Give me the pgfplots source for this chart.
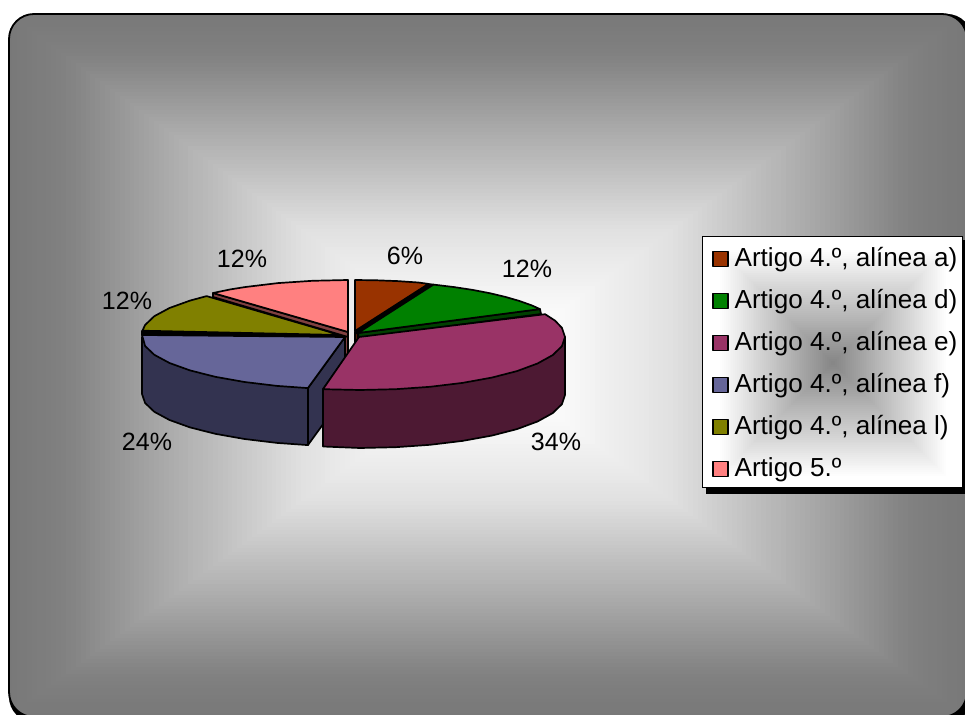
\documentclass[border=0pt]{standalone}
\usepackage{pgfplots}
\pgfplotsset{compat=1.18}
\usepackage{fontspec}
\setmainfont{Liberation Sans}

% face colours of the slices and their darker sides
\definecolor{sliceA}{HTML}{993300}\definecolor{sideA}{HTML}{4D1900}
\definecolor{sliceD}{HTML}{008000}\definecolor{sideD}{HTML}{004000}
\definecolor{sliceE}{HTML}{993366}\definecolor{sideE}{HTML}{4D1933}
\definecolor{sliceF}{HTML}{666699}\definecolor{sideF}{HTML}{333350}
\definecolor{sliceL}{HTML}{808000}\definecolor{sideL}{HTML}{000000}
\definecolor{sliceV}{HTML}{FF8080}\definecolor{sideV}{HTML}{804040}

\begin{document}
\begin{tikzpicture}
\path[use as bounding box,clip] (0,0) rectangle (965bp,715bp);

% chart area and legend panel, both with a rectangular path gradient
\begin{scope}[x=1bp,y=-1bp,yshift=715bp]
  \fill[black,rounded corners=25bp] (9,14) rectangle (972,722);
  \begin{scope}
    \clip[rounded corners=25bp] (9,14) rectangle (967,717);
    \fill[white] (0,0) rectangle (975,725);
    \foreach \i in {100,99,...,1}{
      \pgfmathsetmacro\t{\i/100}
      \pgfmathsetmacro\g{\t<0.15 ? 1-0.13*\t : (\t<0.375 ? 0.98-0.42*(\t-0.15) : (\t<0.87 ? 0.885-0.77*(\t-0.375) : 0.504-0.3*(\t-0.87)))}
      \definecolor{band}{gray}{\g}
      \fill[band] ({487-480*\t*1.02},{365-352*\t*1.02}) rectangle ({487+480*\t*1.02},{365+352*\t*1.02});
    }
  \end{scope}
  \draw[black,line width=1.8bp,rounded corners=25bp] (9,14) rectangle (967,717);

  \fill[black] (706,240) rectangle (970,494);
  \fill[white] (702.5,236.5) rectangle (962.5,488);
  \begin{scope}
    \clip (702.5,236.5) rectangle (962.5,488);
    \foreach \i in {60,59,...,1}{
      \pgfmathsetmacro\t{\i/60}
      \pgfmathsetmacro\g{0.52+0.48*\t}
      \definecolor{band}{gray}{\g}
      \fill[band] ({833-115*\t},{363-115*\t}) rectangle ({833+115*\t},{363+115*\t});
    }
  \end{scope}
  \draw[black,line width=1bp] (702.5,236.5) rectangle (962.5,488);
\end{scope}

\begin{axis}[
  at={(0,0)},anchor=south west,
  scale only axis,width=965bp,height=715bp,
  xmin=0,xmax=965,ymin=0,ymax=715,y dir=reverse,
  hide axis,clip=false,
  every axis plot/.append style={draw=black,line width=1.7bp,line join=round},
  area legend,
  legend image code/.code={\draw[#1,line width=1.5bp] (0bp,-7.5bp) rectangle (15bp,7.5bp);\path (21bp,0bp);},
  legend cell align=left,
  legend style={
    draw=none,fill=none,inner sep=0pt,outer sep=0pt,
    at={(axis cs:712,247)},anchor=north west,
    font=\fontsize{26.1bp}{30bp}\selectfont,
    row sep=18bp,
    nodes={inner sep=0pt,outer sep=0pt,text height=19bp,text depth=5bp},
  },
]
% sides hidden behind the tops: inner walls near the centre and thin visible rims
\addplot[fill=sideV,forget plot] coordinates {(345,332)(348,332)(348,358)(345,358)} --cycle;
\addplot[fill=sideA,forget plot] coordinates {(355,332)(358,332)(358,345)(355,345)} --cycle;
\addplot[fill=black,forget plot] coordinates {(355,332)(428.4,284)(433.5,284.6)(358,334)} --cycle;
\addplot[fill=sideD,forget plot] coordinates {(358,333)(540,309)(541,314)(359,338)} --cycle;
\addplot[fill=sideL,forget plot] coordinates {(142,331)(340,335)(340,338)(142,335)} --cycle;
% outer wall and inner wall of the blue slice
\addplot[fill=sideF,forget plot] coordinates {(142,337)(142,394)(145.1,403)(154.3,411.8)(169.5,420)(190,427.4)(215.2,433.8)(244.5,439)(276.9,442.9)(307.9,445.1)(307.9,388.1)} --cycle;
\addplot[fill=sideF,forget plot] coordinates {(307.9,388.1)(345,337)(345,394)(307.9,445.1)} --cycle;
% outer wall of the magenta slice
\addplot[fill=sideE,forget plot] coordinates {(565,337)(565,395)(561.9,404.2)(552.7,413.1)(537.5,421.5)(517,429.1)(491.8,435.6)(462.5,440.9)(430.1,444.8)(395.6,447.2)(360,448)(323,446.5)(323,389.2)(360,337)} --cycle;

% top faces, one per category
\addplot[fill=sliceA] coordinates {(355,331)(355,280)(376.4,280.3)(397.6,281.1)(418.3,282.5)(428.4,283.9)} --cycle;
\addlegendentry{Artigo 4.º, alínea a)}
\addplot[fill=sliceD] coordinates {(358,333)(433.5,284.6)(454.2,287.1)(472.6,289.9)(489.8,293.2)(505.4,296.9)(519.5,301)(531.8,305.4)(540,309.1)} --cycle;
\addlegendentry{Artigo 4.º, alínea d)}
\addplot[fill=sliceE] coordinates {(359,337)(545.1,314.2)(555,320.6)(561.9,327.8)(565,337)(561.9,346.2)(552.7,355.1)(537.5,363.5)(517,371.1)(491.8,377.6)(462.5,382.9)(430.1,386.8)(395.6,389.2)(360,390)(323,389.2)} --cycle;
\addlegendentry{Artigo 4.º, alínea e)}
\addplot[fill=sliceF] coordinates {(345,337)(307.9,388.1)(276.9,385.9)(244.5,382)(215.2,376.8)(190,370.4)(169.5,363)(154.3,354.8)(145.1,346)(142,335)} --cycle;
\addlegendentry{Artigo 4.º, alínea f)}
\addplot[fill=sliceL] coordinates {(340,335)(142.4,330.7)(145.1,325)(154.3,316.2)(169.5,308)(190,300.6)(206.6,296.1)} --cycle;
\addlegendentry{Artigo 4.º, alínea l)}
\addplot[fill=sideV,forget plot] coordinates {(213,293)(348,332)(348,337)(213,297)} --cycle;
\addplot[fill=sliceV] coordinates {(348,332)(213,293)(230.4,289.4)(245.5,287)(277.9,283.1)(312.3,280.8)(348,280)} --cycle;
\addlegendentry{Artigo 5.º}

% percentage labels
\addplot[draw=none,mark=none,forget plot,
  point meta=explicit symbolic,
  nodes near coords={\pgfplotspointmeta\%},
  nodes near coords align={anchor=base},
  every node near coord/.append style={anchor=base,inner sep=0pt,text=black,
    font=\fontsize{25bp}{30bp}\selectfont},
] table[x=x,y=y,meta=pct] {
x y pct
405 265 6
527 278 12
556 450 34
147 450 24
127 310 12
242 268 12
};
\end{axis}
\end{tikzpicture}
\end{document}
